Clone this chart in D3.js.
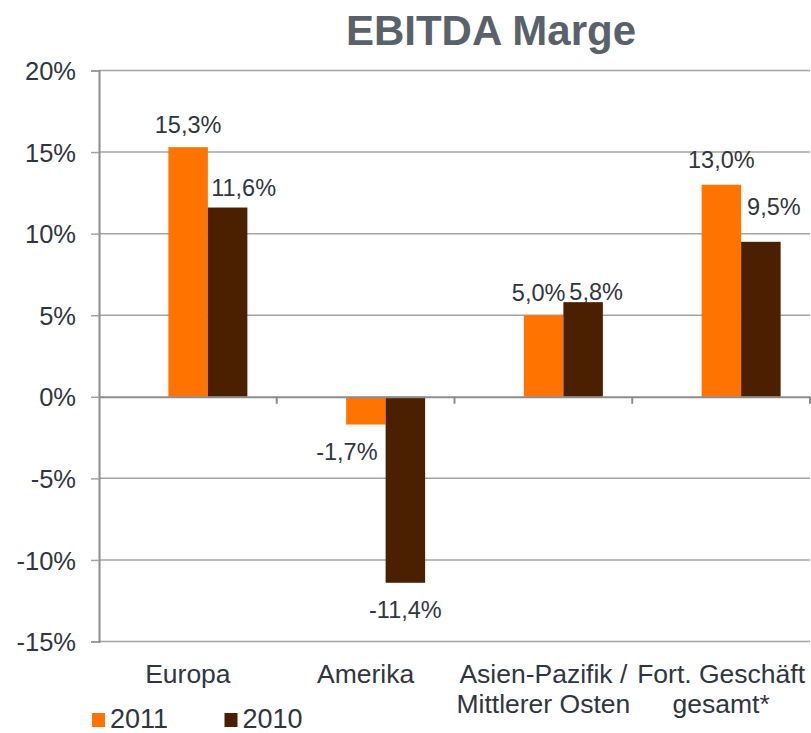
<!DOCTYPE html>
<html>
<head>
<meta charset="utf-8">
<script src="https://cdn.jsdelivr.net/npm/d3@7"></script>
<style>
  body { margin: 0; background: #fff; }
  svg text { font-family: "Liberation Sans", Arial, sans-serif; }
</style>
</head>
<body>
<div id="chart"></div>
<script>
// chart data
const categories = [["Europa"], ["Amerika"], ["Asien-Pazifik /", "Mittlerer Osten"], ["Fort. Geschäft", "gesamt*"]];
const seriesNames = ["2011", "2010"];
const values2011 = [15.3, -1.7, 5.0, 13.0];
const values2010 = [11.6, -11.4, 5.8, 9.5];
const yTicks = [-15, -10, -5, 0, 5, 10, 15, 20];

const colors = { "2011": "#ff7300", "2010": "#4a2000" };
// hand nudges for the data labels, as in the slide
const labelNudge = {
  "0-2010": [16, 2], "1-2011": [-19, 0], "2-2011": [-5, 0], "2-2010": [13, 12],
  "3-2011": [0, -3], "3-2010": [13, -13]
};

const W = 811, H = 733;
const plotLeft = 99, plotRight = 810, plotTop = 70.5, plotBottom = 641.5;
const barShift = 20; // bar pairs sit a bit right of the band centre
const textColor = "#2f3640";

const svg = d3.select("#chart").append("svg")
  .attr("width", W)
  .attr("height", H);

const x = d3.scaleBand()
  .domain(d3.range(categories.length))
  .range([plotLeft, plotRight])
  .paddingInner(0)
  .paddingOuter(0);

const xs = d3.scaleBand()
  .domain(seriesNames)
  .range([0, x.bandwidth()])
  .paddingInner(0)
  .paddingOuter(1.25);

const y = d3.scaleLinear()
  .domain([-15, 20])
  .range([plotBottom, plotTop]);

// title
svg.append("text")
  .attr("x", 491)
  .attr("y", 45)
  .attr("text-anchor", "middle")
  .attr("font-size", 42)
  .attr("font-weight", "bold")
  .attr("fill", "#59626b")
  .text("EBITDA Marge");

// gridlines
svg.append("g")
  .selectAll("line")
  .data(yTicks.filter(d => d !== 0))
  .join("line")
  .attr("x1", plotLeft)
  .attr("x2", plotRight)
  .attr("y1", d => y(d))
  .attr("y2", d => y(d))
  .attr("stroke", "#a3a3a3")
  .attr("stroke-width", 1.5);

// bars
const rows = [];
categories.forEach((c, i) => {
  rows.push({ i: i, s: "2011", v: values2011[i] });
  rows.push({ i: i, s: "2010", v: values2010[i] });
});

svg.append("g")
  .selectAll("rect")
  .data(rows)
  .join("rect")
  .attr("x", d => x(d.i) + xs(d.s) + barShift)
  .attr("width", xs.bandwidth())
  .attr("y", d => y(Math.max(0, d.v)))
  .attr("height", d => Math.abs(y(d.v) - y(0)))
  .attr("fill", d => colors[d.s]);

// y axis
const yAxis = svg.append("g")
  .attr("transform", "translate(" + plotLeft + ",0)")
  .call(d3.axisLeft(y).tickValues(yTicks).tickSize(8).tickPadding(15).tickFormat(d => d + "%"));
yAxis.select(".domain").attr("stroke", "#8c8c8c").attr("stroke-width", 2);
yAxis.selectAll(".tick line").attr("stroke", "#a3a3a3").attr("stroke-width", 1.5);
yAxis.selectAll("text")
  .attr("font-size", 25.5)
  .attr("fill", textColor)
  .attr("dy", "0.36em");

// zero line with category ticks
const xAxis = svg.append("g")
  .attr("transform", "translate(0," + y(0) + ")")
  .call(d3.axisBottom(x).tickSize(0).tickFormat(""));
xAxis.select(".domain").attr("stroke", "#8c8c8c").attr("stroke-width", 2);
xAxis.selectAll(".tick").remove();
xAxis.selectAll(".ctick")
  .data(d3.range(1, categories.length + 1))
  .join("line")
  .attr("x1", d => plotLeft + d * x.bandwidth())
  .attr("x2", d => plotLeft + d * x.bandwidth())
  .attr("y1", 0)
  .attr("y2", 7)
  .attr("stroke", "#8c8c8c")
  .attr("stroke-width", 2);

// category labels
svg.append("g")
  .selectAll("text")
  .data(categories)
  .join("text")
  .attr("x", (d, i) => x(i) + x.bandwidth() / 2)
  .attr("y", 683)
  .attr("text-anchor", "middle")
  .attr("font-size", 26.5)
  .attr("fill", textColor)
  .selectAll("tspan")
  .data(d => d)
  .join("tspan")
  .attr("x", function() { return this.parentNode.getAttribute("x"); })
  .attr("dy", (d, j) => j === 0 ? 0 : 30)
  .text(d => d);

// data labels
svg.append("g")
  .selectAll("text")
  .data(rows)
  .join("text")
  .attr("x", d => x(d.i) + xs(d.s) + barShift + xs.bandwidth() / 2 + (labelNudge[d.i + "-" + d.s] || [0, 0])[0])
  .attr("y", d => (d.v >= 0 ? y(d.v) - 14 : y(d.v) + 35) + (labelNudge[d.i + "-" + d.s] || [0, 0])[1])
  .attr("text-anchor", "middle")
  .attr("font-size", 23.5)
  .attr("fill", textColor)
  .text(d => d3.format(".1f")(d.v).replace(".", ",").replace("−", "-") + "%");

// legend
const legend = svg.append("g")
  .selectAll("g")
  .data(seriesNames)
  .join("g")
  .attr("transform", (d, i) => "translate(" + (92 + i * 132.5) + ",713)");
legend.append("rect")
  .attr("width", 13)
  .attr("height", 14)
  .attr("fill", d => colors[d]);
legend.append("text")
  .attr("x", 18)
  .attr("y", 15)
  .attr("font-size", 27)
  .attr("fill", textColor)
  .text(d => d);
</script>
</body>
</html>
